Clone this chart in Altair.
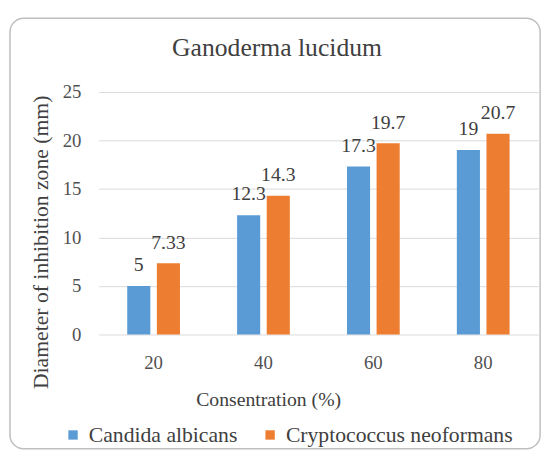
import altair as alt
import pandas as pd

concentrations = ["20", "40", "60", "80"]
candida = [5, 12.3, 17.3, 19]
crypto = [7.33, 14.3, 19.7, 20.7]
candida_labels = ["5", "12.3", "17.3", "19"]
crypto_labels = ["7.33", "14.3", "19.7", "20.7"]
series = ["Candida albicans", "Cryptococcus neoformans"]
colors = ["#5B9BD5", "#ED7D31"]

rows = []
for c, v, l in zip(concentrations, candida, candida_labels):
    rows.append({"conc": c, "series": series[0], "value": v, "label": l})
for c, v, l in zip(concentrations, crypto, crypto_labels):
    rows.append({"conc": c, "series": series[1], "value": v, "label": l})
df = pd.DataFrame(rows)

FONT = "Liberation Serif"

x = alt.X("conc:N", sort=concentrations,
          scale=alt.Scale(paddingInner=0.52, paddingOuter=0.26),
          axis=alt.Axis(title="Consentration (%)", labelAngle=0, ticks=False, domain=False,
                        labelPadding=20, labelFontSize=19, labelFont=FONT, labelColor="#505050",
                        titleFont=FONT, titleFontSize=20, titleFontWeight="normal", titleColor="#404040",
                        titleX=172, titleY=66, titleBaseline="middle"))
xo = alt.XOffset("series:N", sort=series, scale=alt.Scale(paddingInner=0.22))
y = alt.Y("value:Q", scale=alt.Scale(domain=[0, 25]),
          axis=alt.Axis(title="Diameter of  inhibition zone (mm)", values=[0, 5, 10, 15, 20, 25],
                        ticks=False, domain=False, gridColor="#d9d9d9", labelPadding=18,
                        labelFontSize=19, labelFont=FONT, labelColor="#505050",
                        titleFont=FONT, titleFontSize=22, titleFontWeight="normal", titleColor="#404040",
                        titleX=-59, titleY=162, titleBaseline="middle", titleAngle=-90))
color = alt.Color("series:N", sort=series, scale=alt.Scale(domain=series, range=colors),
                  legend=alt.Legend(title=None, orient="none", direction="horizontal",
                                    legendX=-37, legendY=347, symbolType="square", symbolSize=90,
                                    symbolStrokeWidth=0, labelFont=FONT, labelFontSize=22,
                                    labelColor="#404040", labelOffset=5, columnPadding=22,
                                    labelLimit=400))

base = alt.Chart(df)
bars = base.mark_bar().encode(x=x, xOffset=xo, y=y, color=color)
labels = base.mark_text(font=FONT, fontSize=20, color="#404040", baseline="alphabetic", dy=-15).encode(
    x=alt.X("conc:N", sort=concentrations), xOffset=alt.XOffset("series:N", sort=series),
    y="value:Q", text="label:N")

frame = alt.Chart(pd.DataFrame({"f": [0]})).mark_rect(
    fill="transparent", stroke="#bfbfbf", strokeWidth=1.5, cornerRadius=14
).encode(x=alt.value(-90), x2=alt.value(448), y=alt.value(-65), y2=alt.value(372))

chart = alt.layer(frame, bars, labels).properties(
    width=446, height=256,
    title=alt.Title("Ganoderma lucidum", font=FONT, fontSize=26, fontWeight="normal",
                    color="#404040", anchor="middle", frame="group", dx=-42, offset=-44),
    autosize=alt.AutoSizeParams(type="none"),
    padding={"left": 92, "top": 72, "right": 10, "bottom": 118},
    background="white",
).configure_view(stroke=None)

chart.save("out.html", embed_options={"renderer": "svg", "actions": False})
